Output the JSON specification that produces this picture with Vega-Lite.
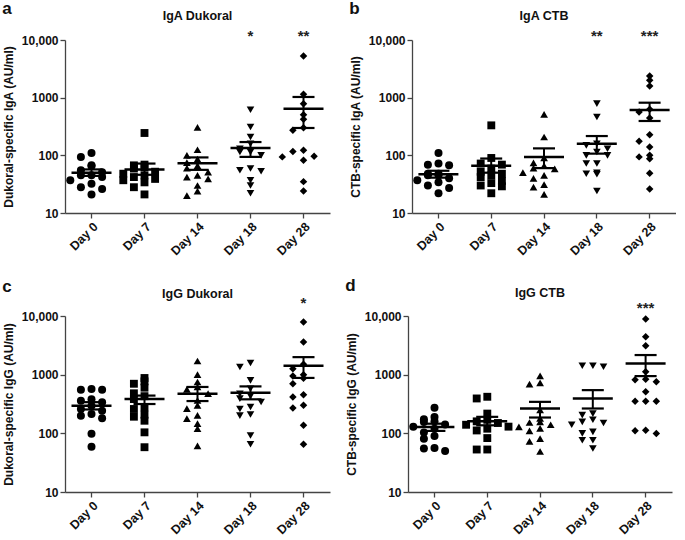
{
  "$schema": "https://vega.github.io/schema/vega-lite/v6.json",
  "padding": {"left": 2, "top": 0, "right": 0, "bottom": 0},
  "config": {
    "font": "Liberation Sans",
    "view": {"stroke": null},
    "axis": {"grid": false, "domain": true, "ticks": true, "domainColor": "#444", "tickColor": "#444", "labelColor": "#111", "titleColor": "#111", "labelFontWeight": "bold", "titleFontWeight": "bold", "labelFontSize": 12, "titleFontSize": 12, "tickSize": 5, "domainWidth": 1.3, "tickWidth": 1.3},
    "title": {"fontWeight": "bold", "color": "#111"}
  },
  "datasets": {
    "pts": [
      {"panel":"a","day":"Day 0","value":110},{"panel":"a","day":"Day 0","value":94},{"panel":"a","day":"Day 0","value":67},{"panel":"a","day":"Day 0","value":65},{"panel":"a","day":"Day 0","value":55},{"panel":"a","day":"Day 0","value":51},{"panel":"a","day":"Day 0","value":45},{"panel":"a","day":"Day 0","value":45},{"panel":"a","day":"Day 0","value":42},{"panel":"a","day":"Day 0","value":37},{"panel":"a","day":"Day 0","value":32},{"panel":"a","day":"Day 0","value":28},{"panel":"a","day":"Day 0","value":26},{"panel":"a","day":"Day 0","value":21},
      {"panel":"a","day":"Day 7","value":244},{"panel":"a","day":"Day 7","value":69},{"panel":"a","day":"Day 7","value":67},{"panel":"a","day":"Day 7","value":62},{"panel":"a","day":"Day 7","value":59},{"panel":"a","day":"Day 7","value":52},{"panel":"a","day":"Day 7","value":48},{"panel":"a","day":"Day 7","value":45},{"panel":"a","day":"Day 7","value":42},{"panel":"a","day":"Day 7","value":39},{"panel":"a","day":"Day 7","value":37},{"panel":"a","day":"Day 7","value":34},{"panel":"a","day":"Day 7","value":28},{"panel":"a","day":"Day 7","value":21},
      {"panel":"a","day":"Day 14","value":306},{"panel":"a","day":"Day 14","value":125},{"panel":"a","day":"Day 14","value":100},{"panel":"a","day":"Day 14","value":86},{"panel":"a","day":"Day 14","value":75},{"panel":"a","day":"Day 14","value":66},{"panel":"a","day":"Day 14","value":60},{"panel":"a","day":"Day 14","value":51},{"panel":"a","day":"Day 14","value":45},{"panel":"a","day":"Day 14","value":42},{"panel":"a","day":"Day 14","value":39},{"panel":"a","day":"Day 14","value":30},{"panel":"a","day":"Day 14","value":24},{"panel":"a","day":"Day 14","value":20},
      {"panel":"a","day":"Day 18","value":619},{"panel":"a","day":"Day 18","value":310},{"panel":"a","day":"Day 18","value":208},{"panel":"a","day":"Day 18","value":159},{"panel":"a","day":"Day 18","value":130},{"panel":"a","day":"Day 18","value":114},{"panel":"a","day":"Day 18","value":114},{"panel":"a","day":"Day 18","value":100},{"panel":"a","day":"Day 18","value":59},{"panel":"a","day":"Day 18","value":55},{"panel":"a","day":"Day 18","value":53},{"panel":"a","day":"Day 18","value":37},{"panel":"a","day":"Day 18","value":30},{"panel":"a","day":"Day 18","value":22},
      {"panel":"a","day":"Day 28","value":5280},{"panel":"a","day":"Day 28","value":1143},{"panel":"a","day":"Day 28","value":787},{"panel":"a","day":"Day 28","value":507},{"panel":"a","day":"Day 28","value":421},{"panel":"a","day":"Day 28","value":302},{"panel":"a","day":"Day 28","value":272},{"panel":"a","day":"Day 28","value":122},{"panel":"a","day":"Day 28","value":117},{"panel":"a","day":"Day 28","value":96},{"panel":"a","day":"Day 28","value":94},{"panel":"a","day":"Day 28","value":82},{"panel":"a","day":"Day 28","value":35},{"panel":"a","day":"Day 28","value":24},
      {"panel":"b","day":"Day 0","value":110},{"panel":"b","day":"Day 0","value":72},{"panel":"b","day":"Day 0","value":69},{"panel":"b","day":"Day 0","value":67},{"panel":"b","day":"Day 0","value":48},{"panel":"b","day":"Day 0","value":48},{"panel":"b","day":"Day 0","value":45},{"panel":"b","day":"Day 0","value":45},{"panel":"b","day":"Day 0","value":40},{"panel":"b","day":"Day 0","value":37},{"panel":"b","day":"Day 0","value":34},{"panel":"b","day":"Day 0","value":30},{"panel":"b","day":"Day 0","value":27},{"panel":"b","day":"Day 0","value":22},
      {"panel":"b","day":"Day 7","value":331},{"panel":"b","day":"Day 7","value":90},{"panel":"b","day":"Day 7","value":72},{"panel":"b","day":"Day 7","value":69},{"panel":"b","day":"Day 7","value":59},{"panel":"b","day":"Day 7","value":52},{"panel":"b","day":"Day 7","value":48},{"panel":"b","day":"Day 7","value":45},{"panel":"b","day":"Day 7","value":42},{"panel":"b","day":"Day 7","value":36},{"panel":"b","day":"Day 7","value":33},{"panel":"b","day":"Day 7","value":30},{"panel":"b","day":"Day 7","value":29},{"panel":"b","day":"Day 7","value":22},
      {"panel":"b","day":"Day 14","value":514},{"panel":"b","day":"Day 14","value":208},{"panel":"b","day":"Day 14","value":90},{"panel":"b","day":"Day 14","value":74},{"panel":"b","day":"Day 14","value":66},{"panel":"b","day":"Day 14","value":60},{"panel":"b","day":"Day 14","value":58},{"panel":"b","day":"Day 14","value":50},{"panel":"b","day":"Day 14","value":45},{"panel":"b","day":"Day 14","value":40},{"panel":"b","day":"Day 14","value":31},{"panel":"b","day":"Day 14","value":28},{"panel":"b","day":"Day 14","value":21},
      {"panel":"b","day":"Day 18","value":787},{"panel":"b","day":"Day 18","value":462},{"panel":"b","day":"Day 18","value":159},{"panel":"b","day":"Day 18","value":149},{"panel":"b","day":"Day 18","value":130},{"panel":"b","day":"Day 18","value":114},{"panel":"b","day":"Day 18","value":100},{"panel":"b","day":"Day 18","value":100},{"panel":"b","day":"Day 18","value":72},{"panel":"b","day":"Day 18","value":72},{"panel":"b","day":"Day 18","value":50},{"panel":"b","day":"Day 18","value":48},{"panel":"b","day":"Day 18","value":47},{"panel":"b","day":"Day 18","value":24},
      {"panel":"b","day":"Day 28","value":2377},{"panel":"b","day":"Day 28","value":2000},{"panel":"b","day":"Day 28","value":1594},{"panel":"b","day":"Day 28","value":628},{"panel":"b","day":"Day 28","value":564},{"panel":"b","day":"Day 28","value":444},{"panel":"b","day":"Day 28","value":228},{"panel":"b","day":"Day 28","value":175},{"panel":"b","day":"Day 28","value":140},{"panel":"b","day":"Day 28","value":100},{"panel":"b","day":"Day 28","value":94},{"panel":"b","day":"Day 28","value":87},{"panel":"b","day":"Day 28","value":49},{"panel":"b","day":"Day 28","value":26},
      {"panel":"c","day":"Day 0","value":570},{"panel":"c","day":"Day 0","value":555},{"panel":"c","day":"Day 0","value":555},{"panel":"c","day":"Day 0","value":380},{"panel":"c","day":"Day 0","value":360},{"panel":"c","day":"Day 0","value":340},{"panel":"c","day":"Day 0","value":296},{"panel":"c","day":"Day 0","value":260},{"panel":"c","day":"Day 0","value":243},{"panel":"c","day":"Day 0","value":214},{"panel":"c","day":"Day 0","value":200},{"panel":"c","day":"Day 0","value":180},{"panel":"c","day":"Day 0","value":98},{"panel":"c","day":"Day 0","value":59},
      {"panel":"c","day":"Day 7","value":877},{"panel":"c","day":"Day 7","value":769},{"panel":"c","day":"Day 7","value":700},{"panel":"c","day":"Day 7","value":600},{"panel":"c","day":"Day 7","value":481},{"panel":"c","day":"Day 7","value":430},{"panel":"c","day":"Day 7","value":384},{"panel":"c","day":"Day 7","value":277},{"panel":"c","day":"Day 7","value":260},{"panel":"c","day":"Day 7","value":208},{"panel":"c","day":"Day 7","value":192},{"panel":"c","day":"Day 7","value":164},{"panel":"c","day":"Day 7","value":104},{"panel":"c","day":"Day 7","value":58},
      {"panel":"c","day":"Day 14","value":1710},{"panel":"c","day":"Day 14","value":1000},{"panel":"c","day":"Day 14","value":750},{"panel":"c","day":"Day 14","value":617},{"panel":"c","day":"Day 14","value":560},{"panel":"c","day":"Day 14","value":474},{"panel":"c","day":"Day 14","value":365},{"panel":"c","day":"Day 14","value":300},{"panel":"c","day":"Day 14","value":263},{"panel":"c","day":"Day 14","value":203},{"panel":"c","day":"Day 14","value":178},{"panel":"c","day":"Day 14","value":146},{"panel":"c","day":"Day 14","value":120},{"panel":"c","day":"Day 14","value":61},
      {"panel":"c","day":"Day 18","value":1580},{"panel":"c","day":"Day 18","value":1350},{"panel":"c","day":"Day 18","value":800},{"panel":"c","day":"Day 18","value":577},{"panel":"c","day":"Day 18","value":474},{"panel":"c","day":"Day 18","value":430},{"panel":"c","day":"Day 18","value":390},{"panel":"c","day":"Day 18","value":342},{"panel":"c","day":"Day 18","value":281},{"panel":"c","day":"Day 18","value":260},{"panel":"c","day":"Day 18","value":210},{"panel":"c","day":"Day 18","value":200},{"panel":"c","day":"Day 18","value":92},{"panel":"c","day":"Day 18","value":65},
      {"panel":"c","day":"Day 28","value":7900},{"panel":"c","day":"Day 28","value":3600},{"panel":"c","day":"Day 28","value":1500},{"panel":"c","day":"Day 28","value":1265},{"panel":"c","day":"Day 28","value":1000},{"panel":"c","day":"Day 28","value":948},{"panel":"c","day":"Day 28","value":870},{"panel":"c","day":"Day 28","value":702},{"panel":"c","day":"Day 28","value":456},{"panel":"c","day":"Day 28","value":416},{"panel":"c","day":"Day 28","value":300},{"panel":"c","day":"Day 28","value":270},{"panel":"c","day":"Day 28","value":137},{"panel":"c","day":"Day 28","value":65},
      {"panel":"d","day":"Day 0","value":272},{"panel":"d","day":"Day 0","value":190},{"panel":"d","day":"Day 0","value":174},{"panel":"d","day":"Day 0","value":160},{"panel":"d","day":"Day 0","value":156},{"panel":"d","day":"Day 0","value":141},{"panel":"d","day":"Day 0","value":130},{"panel":"d","day":"Day 0","value":120},{"panel":"d","day":"Day 0","value":103},{"panel":"d","day":"Day 0","value":90},{"panel":"d","day":"Day 0","value":81},{"panel":"d","day":"Day 0","value":56},{"panel":"d","day":"Day 0","value":55},{"panel":"d","day":"Day 0","value":50},
      {"panel":"d","day":"Day 7","value":420},{"panel":"d","day":"Day 7","value":393},{"panel":"d","day":"Day 7","value":217},{"panel":"d","day":"Day 7","value":170},{"panel":"d","day":"Day 7","value":160},{"panel":"d","day":"Day 7","value":150},{"panel":"d","day":"Day 7","value":140},{"panel":"d","day":"Day 7","value":130},{"panel":"d","day":"Day 7","value":120},{"panel":"d","day":"Day 7","value":112},{"panel":"d","day":"Day 7","value":83},{"panel":"d","day":"Day 7","value":53},{"panel":"d","day":"Day 7","value":53},
      {"panel":"d","day":"Day 14","value":957},{"panel":"d","day":"Day 14","value":726},{"panel":"d","day":"Day 14","value":689},{"panel":"d","day":"Day 14","value":250},{"panel":"d","day":"Day 14","value":180},{"panel":"d","day":"Day 14","value":157},{"panel":"d","day":"Day 14","value":153},{"panel":"d","day":"Day 14","value":140},{"panel":"d","day":"Day 14","value":129},{"panel":"d","day":"Day 14","value":121},{"panel":"d","day":"Day 14","value":110},{"panel":"d","day":"Day 14","value":81},{"panel":"d","day":"Day 14","value":73},{"panel":"d","day":"Day 14","value":49},
      {"panel":"d","day":"Day 18","value":1416},{"panel":"d","day":"Day 18","value":1416},{"panel":"d","day":"Day 18","value":1361},{"panel":"d","day":"Day 18","value":217},{"panel":"d","day":"Day 18","value":204},{"panel":"d","day":"Day 18","value":170},{"panel":"d","day":"Day 18","value":157},{"panel":"d","day":"Day 18","value":150},{"panel":"d","day":"Day 18","value":140},{"panel":"d","day":"Day 18","value":106},{"panel":"d","day":"Day 18","value":100},{"panel":"d","day":"Day 18","value":76},{"panel":"d","day":"Day 18","value":76},{"panel":"d","day":"Day 18","value":55},
      {"panel":"d","day":"Day 28","value":8870},{"panel":"d","day":"Day 28","value":4440},{"panel":"d","day":"Day 28","value":3114},{"panel":"d","day":"Day 28","value":1120},{"panel":"d","day":"Day 28","value":839},{"panel":"d","day":"Day 28","value":820},{"panel":"d","day":"Day 28","value":755},{"panel":"d","day":"Day 28","value":510},{"panel":"d","day":"Day 28","value":353},{"panel":"d","day":"Day 28","value":353},{"panel":"d","day":"Day 28","value":353},{"panel":"d","day":"Day 28","value":113},{"panel":"d","day":"Day 28","value":111},{"panel":"d","day":"Day 28","value":99}
    ],
    "sum": [
      {"panel":"a","day":"Day 0","mean":50,"lo":44,"hi":57},{"panel":"a","day":"Day 7","mean":57,"lo":46,"hi":72},{"panel":"a","day":"Day 14","mean":73,"lo":56,"hi":92},{"panel":"a","day":"Day 18","mean":134,"lo":94,"hi":170},{"panel":"a","day":"Day 28","mean":644,"lo":298,"hi":1028},
      {"panel":"b","day":"Day 0","mean":47,"lo":41,"hi":54},{"panel":"b","day":"Day 7","mean":66,"lo":50,"hi":88},{"panel":"b","day":"Day 14","mean":94,"lo":60,"hi":132},{"panel":"b","day":"Day 18","mean":159,"lo":107,"hi":216},{"panel":"b","day":"Day 28","mean":611,"lo":394,"hi":818},
      {"panel":"c","day":"Day 0","mean":296,"lo":255,"hi":340},{"panel":"c","day":"Day 7","mean":384,"lo":316,"hi":440},{"panel":"c","day":"Day 14","mean":474,"lo":355,"hi":617},{"panel":"c","day":"Day 18","mean":493,"lo":380,"hi":631},{"panel":"c","day":"Day 28","mean":1420,"lo":880,"hi":1990},
      {"panel":"d","day":"Day 0","mean":128,"lo":110,"hi":146},{"panel":"d","day":"Day 7","mean":161,"lo":137,"hi":191},{"panel":"d","day":"Day 14","mean":265,"lo":186,"hi":344},{"panel":"d","day":"Day 18","mean":393,"lo":265,"hi":545},{"panel":"d","day":"Day 28","mean":1552,"lo":945,"hi":2160}
    ],
    "sig": [
      {"panel":"a","day":"Day 18","label":"*"},{"panel":"a","day":"Day 28","label":"**"},
      {"panel":"b","day":"Day 18","label":"**"},{"panel":"b","day":"Day 28","label":"***"},
      {"panel":"c","day":"Day 28","label":"*"},
      {"panel":"d","day":"Day 28","label":"***"}
    ]
  },
  "spacing": 19,
  "vconcat": [
    {
      "spacing": 19,
      "hconcat": [
        {
          "title": {"text": "a", "anchor": "start", "fontSize": 17, "offset": -8},
          "vconcat": [
            {
              "width": 265, "height": 173,
              "title": {"text": "IgA Dukoral", "frame": "group", "fontSize": 12.5, "offset": 6},
              "encoding": {
                "x": {"field": "day", "type": "nominal", "title": null, "scale": {"domain": ["Day 0","Day 7","Day 14","Day 18","Day 28"], "paddingInner": 0, "paddingOuter": 0}, "axis": {"labelAngle": -45, "labelFontSize": 12.5, "domain": true, "ticks": true}},
                "y": {"field": "value", "type": "quantitative", "scale": {"type": "log", "domain": [10, 10000]}, "axis": {"values": [10, 100, 1000, 10000], "labelExpr": "datum.value >= 10000 ? '10,000' : format(datum.value, 'd')", "titlePadding": 6}, "title": "Dukoral-specific IgA (AU/ml)"}
              },
              "layer": [
                {"data": {"name": "pts"}, "transform": [{"filter": "datum.panel == 'a'"}, {"calculate": "floor(log(datum.value) / LN10 / 0.14)", "as": "bk"}, {"window": [{"op": "row_number", "as": "r"}], "groupby": ["day", "bk"], "sort": [{"field": "value", "order": "descending"}]}, {"calculate": "clamp(datum.r == 1 ? 0 : (datum.r % 2 == 0 ? -datum.r / 2 : (datum.r - 1) / 2), -2, 2)", "as": "lane"}],
                 "mark": {"type": "point", "filled": true, "color": "black", "opacity": 1},
                 "encoding": {
                   "xOffset": {"field": "lane", "type": "ordinal", "scale": {"domain": [-2, -1, 0, 1, 2]}},
                   "shape": {"field": "day", "type": "nominal", "scale": {"domain": ["Day 0","Day 7","Day 14","Day 18","Day 28"], "range": ["circle","square","triangle-up","triangle-down","diamond"]}, "legend": null},
                   "size": {"field": "day", "type": "ordinal", "scale": {"domain": ["Day 0","Day 7","Day 14","Day 18","Day 28"], "range": [64, 56, 80, 80, 100]}, "legend": null}
                 }},
                {"data": {"name": "sum"}, "transform": [{"filter": "datum.panel == 'a'"}, {"calculate": "datum.lo", "as": "value"}], "mark": {"type": "rule", "color": "black", "strokeWidth": 2}, "encoding": {"y2": {"field": "hi"}}},
                {"data": {"name": "sum"}, "transform": [{"filter": "datum.panel == 'a'"}, {"fold": ["lo", "hi"], "as": ["stat", "value"]}], "mark": {"type": "tick", "color": "black", "size": 22, "thickness": 2.2, "opacity": 1}},
                {"data": {"name": "sum"}, "transform": [{"filter": "datum.panel == 'a'"}, {"fold": ["mean"], "as": ["stat", "value"]}], "mark": {"type": "tick", "color": "black", "size": 40, "thickness": 2.5, "opacity": 1}},
                {"data": {"name": "sig"}, "transform": [{"filter": "datum.panel == 'a'"}, {"calculate": "9800", "as": "value"}], "mark": {"type": "text", "fontSize": 15, "fontWeight": "bold", "color": "#222", "baseline": "alphabetic"}, "encoding": {"text": {"field": "label"}}}
              ]
            }
          ]
        },
        {
          "title": {"text": "b", "anchor": "start", "fontSize": 17, "offset": -8},
          "vconcat": [
            {
              "width": 264, "height": 173,
              "title": {"text": "IgA CTB", "frame": "group", "fontSize": 12.5, "offset": 6},
              "encoding": {
                "x": {"field": "day", "type": "nominal", "title": null, "scale": {"domain": ["Day 0","Day 7","Day 14","Day 18","Day 28"], "paddingInner": 0, "paddingOuter": 0}, "axis": {"labelAngle": -45, "labelFontSize": 12.5, "domain": true, "ticks": true}},
                "y": {"field": "value", "type": "quantitative", "scale": {"type": "log", "domain": [10, 10000]}, "axis": {"values": [10, 100, 1000, 10000], "labelExpr": "datum.value >= 10000 ? '10,000' : format(datum.value, 'd')", "titlePadding": 6}, "title": "CTB-specific IgA (AU/ml)"}
              },
              "layer": [
                {"data": {"name": "pts"}, "transform": [{"filter": "datum.panel == 'b'"}, {"calculate": "floor(log(datum.value) / LN10 / 0.14)", "as": "bk"}, {"window": [{"op": "row_number", "as": "r"}], "groupby": ["day", "bk"], "sort": [{"field": "value", "order": "descending"}]}, {"calculate": "clamp(datum.r == 1 ? 0 : (datum.r % 2 == 0 ? -datum.r / 2 : (datum.r - 1) / 2), -2, 2)", "as": "lane"}],
                 "mark": {"type": "point", "filled": true, "color": "black", "opacity": 1},
                 "encoding": {
                   "xOffset": {"field": "lane", "type": "ordinal", "scale": {"domain": [-2, -1, 0, 1, 2]}},
                   "shape": {"field": "day", "type": "nominal", "scale": {"domain": ["Day 0","Day 7","Day 14","Day 18","Day 28"], "range": ["circle","square","triangle-up","triangle-down","diamond"]}, "legend": null},
                   "size": {"field": "day", "type": "ordinal", "scale": {"domain": ["Day 0","Day 7","Day 14","Day 18","Day 28"], "range": [64, 56, 80, 80, 100]}, "legend": null}
                 }},
                {"data": {"name": "sum"}, "transform": [{"filter": "datum.panel == 'b'"}, {"calculate": "datum.lo", "as": "value"}], "mark": {"type": "rule", "color": "black", "strokeWidth": 2}, "encoding": {"y2": {"field": "hi"}}},
                {"data": {"name": "sum"}, "transform": [{"filter": "datum.panel == 'b'"}, {"fold": ["lo", "hi"], "as": ["stat", "value"]}], "mark": {"type": "tick", "color": "black", "size": 22, "thickness": 2.2, "opacity": 1}},
                {"data": {"name": "sum"}, "transform": [{"filter": "datum.panel == 'b'"}, {"fold": ["mean"], "as": ["stat", "value"]}], "mark": {"type": "tick", "color": "black", "size": 40, "thickness": 2.5, "opacity": 1}},
                {"data": {"name": "sig"}, "transform": [{"filter": "datum.panel == 'b'"}, {"calculate": "9800", "as": "value"}], "mark": {"type": "text", "fontSize": 15, "fontWeight": "bold", "color": "#222", "baseline": "alphabetic"}, "encoding": {"text": {"field": "label"}}}
              ]
            }
          ]
        }
      ]
    },
    {
      "spacing": 15,
      "hconcat": [
        {
          "title": {"text": "c", "anchor": "start", "fontSize": 17, "offset": -8},
          "vconcat": [
            {
              "width": 265, "height": 176,
              "title": {"text": "IgG Dukoral", "frame": "group", "fontSize": 12.5, "offset": -5},
              "encoding": {
                "x": {"field": "day", "type": "nominal", "title": null, "scale": {"domain": ["Day 0","Day 7","Day 14","Day 18","Day 28"], "paddingInner": 0, "paddingOuter": 0}, "axis": {"labelAngle": -45, "labelFontSize": 12.5, "domain": true, "ticks": true}},
                "y": {"field": "value", "type": "quantitative", "scale": {"type": "log", "domain": [10, 10000]}, "axis": {"values": [10, 100, 1000, 10000], "labelExpr": "datum.value >= 10000 ? '10,000' : format(datum.value, 'd')", "titlePadding": 6}, "title": "Dukoral-specific IgG (AU/ml)"}
              },
              "layer": [
                {"data": {"name": "pts"}, "transform": [{"filter": "datum.panel == 'c'"}, {"calculate": "floor(log(datum.value) / LN10 / 0.14)", "as": "bk"}, {"window": [{"op": "row_number", "as": "r"}], "groupby": ["day", "bk"], "sort": [{"field": "value", "order": "descending"}]}, {"calculate": "clamp(datum.r == 1 ? 0 : (datum.r % 2 == 0 ? -datum.r / 2 : (datum.r - 1) / 2), -2, 2)", "as": "lane"}],
                 "mark": {"type": "point", "filled": true, "color": "black", "opacity": 1},
                 "encoding": {
                   "xOffset": {"field": "lane", "type": "ordinal", "scale": {"domain": [-2, -1, 0, 1, 2]}},
                   "shape": {"field": "day", "type": "nominal", "scale": {"domain": ["Day 0","Day 7","Day 14","Day 18","Day 28"], "range": ["circle","square","triangle-up","triangle-down","diamond"]}, "legend": null},
                   "size": {"field": "day", "type": "ordinal", "scale": {"domain": ["Day 0","Day 7","Day 14","Day 18","Day 28"], "range": [64, 56, 80, 80, 100]}, "legend": null}
                 }},
                {"data": {"name": "sum"}, "transform": [{"filter": "datum.panel == 'c'"}, {"calculate": "datum.lo", "as": "value"}], "mark": {"type": "rule", "color": "black", "strokeWidth": 2}, "encoding": {"y2": {"field": "hi"}}},
                {"data": {"name": "sum"}, "transform": [{"filter": "datum.panel == 'c'"}, {"fold": ["lo", "hi"], "as": ["stat", "value"]}], "mark": {"type": "tick", "color": "black", "size": 22, "thickness": 2.2, "opacity": 1}},
                {"data": {"name": "sum"}, "transform": [{"filter": "datum.panel == 'c'"}, {"fold": ["mean"], "as": ["stat", "value"]}], "mark": {"type": "tick", "color": "black", "size": 40, "thickness": 2.5, "opacity": 1}},
                {"data": {"name": "sig"}, "transform": [{"filter": "datum.panel == 'c'"}, {"calculate": "13690", "as": "value"}], "mark": {"type": "text", "fontSize": 15, "fontWeight": "bold", "color": "#222", "baseline": "alphabetic"}, "encoding": {"text": {"field": "label"}}}
              ]
            }
          ]
        },
        {
          "title": {"text": "d", "anchor": "start", "fontSize": 17, "offset": -8},
          "vconcat": [
            {
              "width": 264, "height": 176,
              "title": {"text": "IgG CTB", "frame": "group", "fontSize": 12.5, "offset": 1},
              "encoding": {
                "x": {"field": "day", "type": "nominal", "title": null, "scale": {"domain": ["Day 0","Day 7","Day 14","Day 18","Day 28"], "paddingInner": 0, "paddingOuter": 0}, "axis": {"labelAngle": -45, "labelFontSize": 12.5, "domain": true, "ticks": true}},
                "y": {"field": "value", "type": "quantitative", "scale": {"type": "log", "domain": [10, 10000]}, "axis": {"values": [10, 100, 1000, 10000], "labelExpr": "datum.value >= 10000 ? '10,000' : format(datum.value, 'd')", "titlePadding": 6}, "title": "CTB-specific IgG (AU/ml)"}
              },
              "layer": [
                {"data": {"name": "pts"}, "transform": [{"filter": "datum.panel == 'd'"}, {"calculate": "floor(log(datum.value) / LN10 / 0.14)", "as": "bk"}, {"window": [{"op": "row_number", "as": "r"}], "groupby": ["day", "bk"], "sort": [{"field": "value", "order": "descending"}]}, {"calculate": "clamp(datum.r == 1 ? 0 : (datum.r % 2 == 0 ? -datum.r / 2 : (datum.r - 1) / 2), -2, 2)", "as": "lane"}],
                 "mark": {"type": "point", "filled": true, "color": "black", "opacity": 1},
                 "encoding": {
                   "xOffset": {"field": "lane", "type": "ordinal", "scale": {"domain": [-2, -1, 0, 1, 2]}},
                   "shape": {"field": "day", "type": "nominal", "scale": {"domain": ["Day 0","Day 7","Day 14","Day 18","Day 28"], "range": ["circle","square","triangle-up","triangle-down","diamond"]}, "legend": null},
                   "size": {"field": "day", "type": "ordinal", "scale": {"domain": ["Day 0","Day 7","Day 14","Day 18","Day 28"], "range": [64, 56, 80, 80, 100]}, "legend": null}
                 }},
                {"data": {"name": "sum"}, "transform": [{"filter": "datum.panel == 'd'"}, {"calculate": "datum.lo", "as": "value"}], "mark": {"type": "rule", "color": "black", "strokeWidth": 2}, "encoding": {"y2": {"field": "hi"}}},
                {"data": {"name": "sum"}, "transform": [{"filter": "datum.panel == 'd'"}, {"fold": ["lo", "hi"], "as": ["stat", "value"]}], "mark": {"type": "tick", "color": "black", "size": 22, "thickness": 2.2, "opacity": 1}},
                {"data": {"name": "sum"}, "transform": [{"filter": "datum.panel == 'd'"}, {"fold": ["mean"], "as": ["stat", "value"]}], "mark": {"type": "tick", "color": "black", "size": 40, "thickness": 2.5, "opacity": 1}},
                {"data": {"name": "sig"}, "transform": [{"filter": "datum.panel == 'd'"}, {"calculate": "11250", "as": "value"}], "mark": {"type": "text", "fontSize": 15, "fontWeight": "bold", "color": "#222", "baseline": "alphabetic"}, "encoding": {"text": {"field": "label"}}}
              ]
            }
          ]
        }
      ]
    }
  ]
}
